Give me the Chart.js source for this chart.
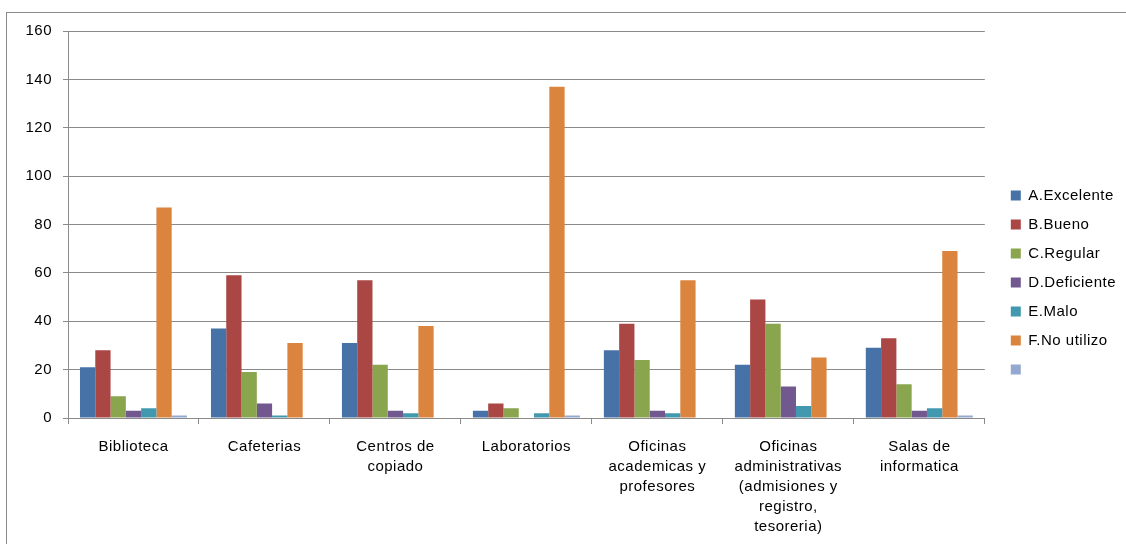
<!DOCTYPE html>
<html>
<head>
<meta charset="utf-8">
<script src="https://cdn.jsdelivr.net/npm/chart.js@4/dist/chart.umd.min.js"></script>
<style>
  html, body { margin: 0; padding: 0; background: #fff; }
  #wrap { position: relative; width: 1126px; height: 544px; overflow: hidden; }
  #frame { position: absolute; left: 6px; top: 12px; width: 1200px; height: 600px;
           border-left: 1px solid #8a8a8a; border-top: 1px solid #8a8a8a; pointer-events: none; }
  canvas { position: absolute; left: 0; top: 0; }
</style>
</head>
<body>
<div id="wrap">
  <canvas id="c" width="1126" height="544"></canvas>
  <div id="frame"></div>
</div>
<script>
const categories = [
  ["Biblioteca"],
  ["Cafeterias"],
  ["Centros de", "copiado"],
  ["Laboratorios"],
  ["Oficinas", "academicas y", "profesores"],
  ["Oficinas", "administrativas", "(admisiones y", "registro,", "tesoreria)"],
  ["Salas de", "informatica"]
];
const seriesNames = ["A.Excelente", "B.Bueno", "C.Regular", "D.Deficiente", "E.Malo", "F.No utilizo", ""];
const excelente  = [21, 37, 31, 3, 28, 22, 29];
const bueno      = [28, 59, 57, 6, 39, 49, 33];
const regular    = [9, 19, 22, 4, 24, 39, 14];
const deficiente = [3, 6, 3, 0, 3, 13, 3];
const malo       = [4, 1, 2, 2, 2, 5, 4];
const noUtilizo  = [87, 31, 38, 137, 57, 25, 69];
const sinNombre  = [1, 0, 0, 1, 0, 0, 1];
const yTicks = { min: 0, max: 160, step: 20 };

const seriesValues = [excelente, bueno, regular, deficiente, malo, noUtilizo, sinNombre];
const colors = ["#4672A8", "#AA4644", "#89A54E", "#71598F", "#4298AF", "#DB843D", "#93A9CF"];

const datasets = seriesValues.map((vals, i) => ({
  label: seriesNames[i],
  data: vals,
  backgroundColor: colors[i],
  borderWidth: 0,
  barPercentage: 1.0,
  categoryPercentage: 0.817
}));

const font = { family: "Arial, 'Liberation Sans', sans-serif", size: 15 };

const spacing = {
  id: 'spacing',
  beforeLayout(chart) { chart.ctx.letterSpacing = '0.5px'; },
  beforeDraw(chart) { chart.ctx.letterSpacing = '0.5px'; }
};

new Chart(document.getElementById('c'), {
  type: 'bar',
  data: { labels: categories, datasets },
  plugins: [spacing],
  options: {
    responsive: false,
    animation: false,
    devicePixelRatio: 1,
    layout: { padding: { left: 0, top: 31, right: 0, bottom: 10 } },
    plugins: {
      legend: {
        position: 'right',
        align: 'center',
        labels: { boxWidth: 10, boxHeight: 10, padding: 14, color: '#000', font: font }
      },
      tooltip: { enabled: false }
    },
    scales: {
      x: {
        grid: { drawOnChartArea: false, drawTicks: true, tickLength: 6, offset: true, color: '#8a8a8a' },
        border: { color: '#8a8a8a' },
        ticks: { color: '#000', font: { ...font, lineHeight: 1.333 }, padding: 13, maxRotation: 0, autoSkip: false },
        afterFit: s => { s.height = 116; }
      },
      y: {
        min: yTicks.min, max: yTicks.max,
        ticks: { stepSize: yTicks.step, color: '#000', font: font, padding: 11 },
        grid: { color: '#8a8a8a', tickLength: 5 },
        border: { color: '#8a8a8a' },
        afterFit: s => { s.width = 68; }
      },
      gap: {
        position: 'right',
        display: true,
        grid: { display: false, drawTicks: false },
        ticks: { display: false },
        border: { display: false },
        afterFit: s => { s.width = 12; }
      }
    }
  }
});
</script>
</body>
</html>
